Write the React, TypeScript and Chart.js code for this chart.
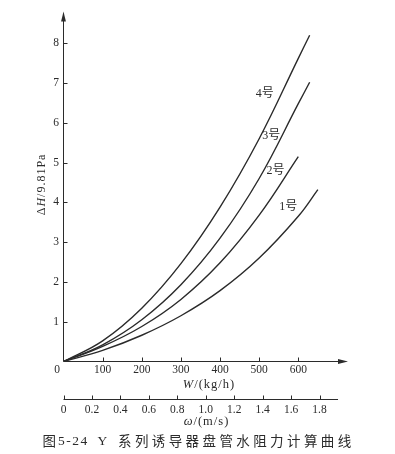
import React, { useEffect, useRef } from 'react';
import { Chart, registerables } from 'chart.js';

Chart.register(...registerables);

// ---- data ----
const SERIES_NAMES = ['1号', '2号', '3号', '4号'];
const W_1 = [0, 100, 200, 300, 400, 500, 600, 650];
const DH_1 = [0, 0.28, 0.66, 1.15, 1.78, 2.6, 3.65, 4.32];
const W_2 = [0, 100, 200, 300, 400, 500, 600];
const DH_2 = [0, 0.38, 0.88, 1.56, 2.48, 3.68, 5.15];
const W_3 = [0, 100, 200, 300, 400, 500, 600, 629];
const DH_3 = [0, 0.42, 1.05, 1.93, 3.1, 4.6, 6.48, 7.02];
const W_4 = [0, 100, 200, 300, 400, 500, 600, 629];
const DH_4 = [0, 0.52, 1.34, 2.46, 3.88, 5.6, 7.62, 8.2];

const LABEL_W = [574, 542, 531, 514];
const LABEL_DH = [3.89, 4.8, 5.67, 6.73];

const W_TICKS = [100, 200, 300, 400, 500, 600];
const Y_TICKS = [1, 2, 3, 4, 5, 6, 7, 8];
const OMEGA_TICKS = [0, 0.2, 0.4, 0.6, 0.8, 1.0, 1.2, 1.4, 1.6, 1.8];
const OMEGA_LABELS = ['0', '0.2', '0.4', '0.6', '0.8', '1.0', '1.2', '1.4', '1.6', '1.8'];

const W_MAX = 727;
const DH_MAX = 8.8;
const OMEGA_MAX = 2.0;
const OMEGA_AXIS_END = 1.93;

const CAPTION_PARTS = ['图', '5-24', 'Y', '系列诱导器盘管水阻力计算曲线'];

// ---- styles ----
const INK = '#2b2b2b';
const SERIF = "'Liberation Serif', 'DejaVu Serif', serif";
const CJK = "'Noto Sans CJK SC', 'Noto Sans CJK JP', sans-serif";
const LABEL_FONT = "'Liberation Serif', 'Noto Sans CJK SC', serif";

type Part = { text: string; italic?: boolean };

function drawRich(ctx: CanvasRenderingContext2D, parts: Part[], size: number, spacing: number) {
  const fonts = parts.map(p => `${p.italic ? 'italic ' : ''}${size}px ${SERIF}`);
  (ctx as any).letterSpacing = `${spacing}px`;
  let total = 0;
  const widths = parts.map((p, i) => {
    ctx.font = fonts[i];
    const w = ctx.measureText(p.text).width;
    total += w;
    return w;
  });
  let x = -total / 2;
  ctx.textAlign = 'left';
  ctx.textBaseline = 'middle';
  parts.forEach((p, i) => {
    ctx.font = fonts[i];
    ctx.fillText(p.text, x, 0);
    x += widths[i];
  });
  (ctx as any).letterSpacing = '0px';
}

const axesPlugin = {
  id: 'bookAxes',
  afterDraw(chart: any) {
    const { ctx, chartArea: a, scales } = chart;
    const xs = scales.x;
    const ys = scales.y;
    const ws = scales.x2;
    ctx.save();
    ctx.strokeStyle = INK;
    ctx.fillStyle = INK;
    ctx.lineWidth = 1;

    const xL = a.left;
    const yB = a.bottom;

    // y axis with arrow
    ctx.beginPath();
    ctx.moveTo(xL, yB);
    ctx.lineTo(xL, a.top + 6);
    ctx.stroke();
    ctx.beginPath();
    ctx.moveTo(xL, a.top);
    ctx.lineTo(xL - 2.4, a.top + 10);
    ctx.lineTo(xL + 2.4, a.top + 10);
    ctx.closePath();
    ctx.fill();

    // x axis with arrow
    ctx.beginPath();
    ctx.moveTo(xL, yB);
    ctx.lineTo(a.right - 6, yB);
    ctx.stroke();
    ctx.beginPath();
    ctx.moveTo(a.right, yB);
    ctx.lineTo(a.right - 10, yB - 2.5);
    ctx.lineTo(a.right - 10, yB + 2.5);
    ctx.closePath();
    ctx.fill();

    // inward ticks
    ctx.beginPath();
    W_TICKS.forEach(v => {
      const px = Math.round(xs.getPixelForValue(v)) + 0.5;
      ctx.moveTo(px, yB);
      ctx.lineTo(px, yB - 4);
    });
    Y_TICKS.forEach(v => {
      const py = Math.round(ys.getPixelForValue(v)) + 0.5;
      ctx.moveTo(xL, py);
      ctx.lineTo(xL + 4, py);
    });
    ctx.stroke();

    // omega axis
    const yW = ws.top - 0.5;
    ctx.beginPath();
    ctx.moveTo(ws.getPixelForValue(0), yW);
    ctx.lineTo(ws.getPixelForValue(OMEGA_AXIS_END), yW);
    OMEGA_TICKS.forEach(v => {
      const px = Math.round(ws.getPixelForValue(v)) + 0.5;
      ctx.moveTo(px, yW);
      ctx.lineTo(px, yW - 4);
    });
    ctx.stroke();

    // origin label
    ctx.font = `11.5px ${SERIF}`;
    ctx.textAlign = 'center';
    ctx.textBaseline = 'middle';
    ctx.fillText('0', xL - 6.5, yB + 8);

    // axis titles
    ctx.save();
    ctx.translate(a.left + 145.5, yB + 23);
    drawRich(ctx, [{ text: 'W', italic: true }, { text: '/(kg/h)' }], 12.5, 1);
    ctx.restore();

    ctx.save();
    ctx.translate(a.left + 143, ws.top + 22);
    drawRich(ctx, [{ text: 'ω', italic: true }, { text: '/(m/s)' }], 12.5, 1);
    ctx.restore();

    ctx.save();
    ctx.translate(a.left - 22, (a.top + a.bottom) / 2 - 2);
    ctx.rotate(-Math.PI / 2);
    drawRich(ctx, [{ text: 'Δ' }, { text: 'H', italic: true }, { text: '/9.81Pa' }], 12, 1);
    ctx.restore();

    // curve labels
    ctx.font = `12px ${LABEL_FONT}`;
    ctx.textAlign = 'center';
    ctx.textBaseline = 'middle';
    SERIES_NAMES.forEach((name, i) => {
      ctx.fillText(name, xs.getPixelForValue(LABEL_W[i]), ys.getPixelForValue(LABEL_DH[i]));
    });

    // caption
    const cy = ws.top + 41;
    ctx.textAlign = 'left';
    ctx.textBaseline = 'middle';
    (ctx as any).letterSpacing = '0px';
    ctx.font = `13.5px ${CJK}`;
    ctx.fillText(CAPTION_PARTS[0], 42.5, cy);
    (ctx as any).letterSpacing = '1.5px';
    ctx.font = `13.5px ${SERIF}`;
    ctx.fillText(CAPTION_PARTS[1], 58, cy + 0.5);
    (ctx as any).letterSpacing = '0px';
    ctx.fillText(CAPTION_PARTS[2], 97.5, cy + 0.5);
    (ctx as any).letterSpacing = '3.4px';
    ctx.font = `13.5px ${CJK}`;
    ctx.fillText(CAPTION_PARTS[3], 118, cy);
    (ctx as any).letterSpacing = '0px';

    ctx.restore();
  },
};

export default function App() {
  const ref = useRef<HTMLCanvasElement | null>(null);

  useEffect(() => {
    document.body.style.margin = '0';
    document.body.style.overflow = 'hidden';
    document.body.style.background = '#ffffff';
    const canvas = ref.current;
    if (!canvas) return;

    const series = [
      [W_1, DH_1],
      [W_2, DH_2],
      [W_3, DH_3],
      [W_4, DH_4],
    ];

    const tickFont = { family: SERIF, size: 11.5 };

    const chart = new Chart(canvas, {
      type: 'line',
      data: {
        datasets: series.map(([ws, ds], i) => ({
          label: SERIES_NAMES[i],
          data: ws.map((w, j) => ({ x: w, y: ds[j] })),
          borderColor: INK,
          borderWidth: 1.4,
          pointRadius: 0,
          fill: false,
          tension: 0.4,
          xAxisID: 'x',
          yAxisID: 'y',
        })),
      },
      options: {
        animation: false,
        responsive: false,
        devicePixelRatio: 1,
        layout: { padding: { left: 0, top: 5, right: 47, bottom: 0 } },
        plugins: {
          legend: { display: false },
          tooltip: { enabled: false },
          title: { display: false },
        },
        scales: {
          x: {
            type: 'linear',
            position: 'bottom',
            weight: 1,
            min: 0,
            max: W_MAX,
            grid: { display: false, drawTicks: false },
            border: { display: false },
            afterBuildTicks: (s: any) => {
              s.ticks = W_TICKS.map(value => ({ value }));
            },
            afterFit: (s: any) => {
              s.height = 38.5;
            },
            ticks: {
              autoSkip: false,
              maxRotation: 0,
              padding: 1.5,
              color: INK,
              font: tickFont,
              callback: (v: any) => String(v),
            },
          },
          x2: {
            type: 'linear',
            position: 'bottom',
            weight: 2,
            min: 0,
            max: OMEGA_MAX,
            grid: { display: false, drawTicks: false },
            border: { display: false },
            afterBuildTicks: (s: any) => {
              s.ticks = OMEGA_TICKS.map(value => ({ value }));
            },
            afterFit: (s: any) => {
              s.height = 54;
            },
            ticks: {
              autoSkip: false,
              maxRotation: 0,
              padding: 3.1,
              color: INK,
              font: tickFont,
              callback: (v: any) => {
                const i = OMEGA_TICKS.findIndex(t => Math.abs(t - v) < 1e-6);
                return i >= 0 ? OMEGA_LABELS[i] : '';
              },
            },
          },
          y: {
            type: 'linear',
            position: 'left',
            min: 0,
            max: DH_MAX,
            grid: { display: false, drawTicks: false },
            border: { display: false },
            afterBuildTicks: (s: any) => {
              s.ticks = Y_TICKS.map(value => ({ value }));
            },
            afterFit: (s: any) => {
              s.width = 63.5;
            },
            ticks: {
              padding: 4.5,
              color: INK,
              font: tickFont,
              callback: (v: any) => String(v),
            },
          },
        },
      },
      plugins: [axesPlugin],
    } as any);

    return () => chart.destroy();
  }, []);

  return (
    <div style={{ width: 395, height: 454, background: '#ffffff' }}>
      <canvas ref={ref} width={395} height={454} style={{ display: 'block', width: 395, height: 454 }} />
    </div>
  );
}
